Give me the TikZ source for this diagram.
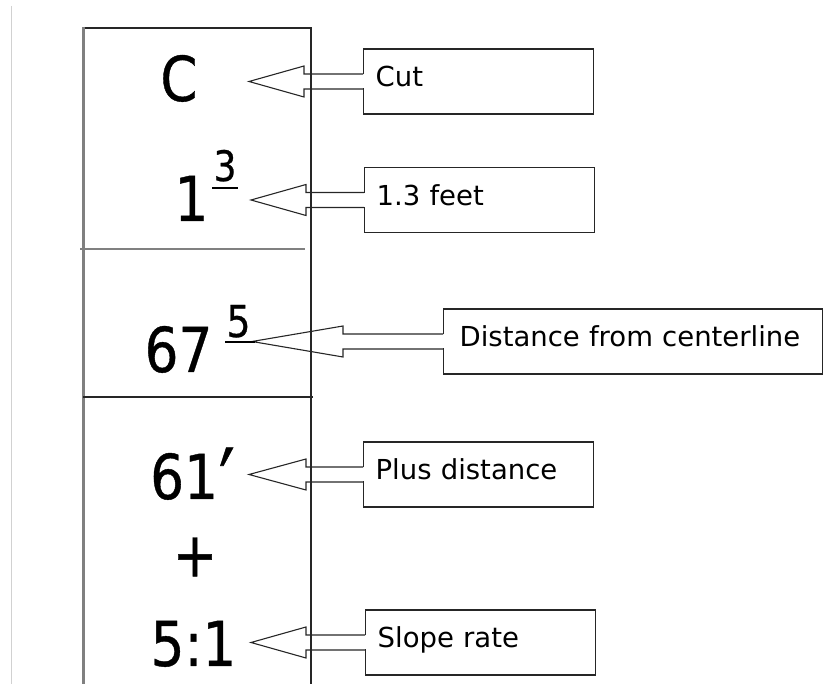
\documentclass[tikz,border=0pt]{standalone}
\usepackage{fontspec}
\setmainfont{DejaVu Sans}
\newfontfamily\stakefont[FakeStretch=0.86, FakeBold=0.6]{DejaVu Sans}
\usepackage{tikz}
\usetikzlibrary{positioning,calc}

\tikzset{
    stake/.style={line width=1.3pt, black!85},
    stakemark/.style={inner sep=0pt, anchor=base, font=\stakefont\fontsize{62}{62}\selectfont},
    fracmark/.style={inner sep=0pt, anchor=base, font=\stakefont\fontsize{#1}{#1}\selectfont},
    label/.style={rectangle, draw=black!85, line width=1.3pt, minimum height=65pt, text width=206pt, text height=22pt, text depth=11pt, inner xsep=12pt, align=left, anchor=west, font=\fontsize{27.5}{30}\selectfont},
    arrowline/.style={line width=1.1pt, black!85, line join=miter},
}

% hollow block arrow from a label box to a tip coordinate
\newcommand{\hollowarrow}[3]{%
    \fill[white] ($(#1.west)+(-1.5pt,7pt)$) rectangle ($(#1.west)+(1.5pt,-7pt)$);
    \draw[arrowline] let \p1=(#1.west), \p2=(#2) in
        (\x1,\y1+7.5pt) -- (\x2+#3,\y1+7.5pt) -- (\x2+#3,\y1+15.5pt) -- (\x2,\y1)
        -- (\x2+#3,\y1-15.5pt) -- (\x2+#3,\y1-7.5pt) -- (\x1,\y1-7.5pt);
}

\begin{document}
\begin{tikzpicture}[x=1pt, y=-1pt]
    \useasboundingbox (0,0) rectangle (823,684);

    % page edge
    \draw[black!18, line width=0.8pt] (11,6) -- (11,684);

    % Label boxes
    \node[label] (cutlabel) at (363,81.5) {Cut};
    \node[label] (depthlabel) at (364,200) {1.3 feet};
    \node[label, text width=347pt, inner xsep=16pt] (offsetlabel) at (443,341.5) {Distance from centerline};
    \node[label] (pluslabel) at (363,474.5) {Plus distance};
    \node[label] (slopelabel) at (365,642.5) {Slope rate};

    % Arrow tips
    \coordinate (cuttip) at (249,81.5);
    \coordinate (depthtip) at (251,200);
    \coordinate (offsettip) at (252,341.5);
    \coordinate (plustip) at (249,474.5);
    \coordinate (slopetip) at (251,642.5);

    % Arrows from labels to the stake marks
    \hollowarrow{cutlabel}{cuttip}{55pt}
    \hollowarrow{depthlabel}{depthtip}{55pt}
    \hollowarrow{offsetlabel}{offsettip}{91pt}
    \hollowarrow{pluslabel}{plustip}{57pt}
    \hollowarrow{slopelabel}{slopetip}{55pt}

    % Stake outline
    \draw[stake] (83,28) -- (311,28);
    \draw[stake] (311,27.4) -- (311,684);
    \draw[line width=3pt, gray] (83,27) -- (83,684);
    \draw[line width=1.5pt, gray] (80,249) -- (305,249);
    \draw[stake] (83,397) -- (313,397);

    % Stake marks
    \node[stakemark] (cut) at (179,101) {C};
    \node[stakemark] (depth) at (191.5,221) {1};
    \node[fracmark=42] (depthfrac) at (225,181) {3};
    \node[stakemark] (offset) at (178.5,372) {67};
    \node[fracmark=44] (offsetfrac) at (238.5,337) {5};
    \node[stakemark] (plus) at (192.5,499) {61\hspace{1pt}\raisebox{-21pt}{\scalebox{1.3}[1.6]{′}}};
    \node[stakemark, anchor=center] (plussign) at (195,557) {+};
    \node[stakemark] (slope) at (193.5,666) {5:1};

    % Underlines of the fractions
    \draw[line width=2pt] (212,188) -- (238,188);
    \draw[line width=2pt] (225,342) -- (255,342);
\end{tikzpicture}
\end{document}
